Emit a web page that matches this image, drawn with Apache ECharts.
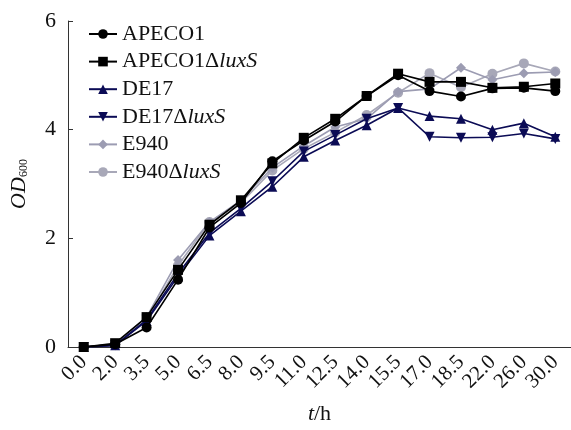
<!DOCTYPE html>
<html>
<head>
<meta charset="utf-8">
<script src="https://cdn.jsdelivr.net/npm/echarts@6/dist/echarts.min.js"></script>
<style>html,body{margin:0;padding:0;background:#fff}#c{width:571px;height:430px}</style>
</head>
<body>
<div id="c"></div>
<script>
const categories = ['0.0','2.0','3.5','5.0','6.5','8.0','9.5','11.0','12.5','14.0','15.5','17.0','18.5','22.0','26.0','30.0'];
const yTicks = [0, 2, 4, 6];
const seriesNames = ['APECO1', 'APECO1ΔluxS', 'DE17', 'DE17ΔluxS', 'E940', 'E940ΔluxS'];
const apeco1 =        [0.00, 0.05, 0.36, 1.24, 2.20, 2.65, 3.42, 3.80, 4.15, 4.62, 5.00, 4.71, 4.61, 4.76, 4.77, 4.71];
const apeco1LuxS =    [0.00, 0.07, 0.55, 1.42, 2.25, 2.70, 3.38, 3.85, 4.20, 4.62, 5.03, 4.88, 4.88, 4.77, 4.79, 4.85];
const de17 =          [0.00, 0.03, 0.48, 1.30, 2.05, 2.50, 2.95, 3.50, 3.80, 4.08, 4.40, 4.25, 4.20, 4.00, 4.12, 3.87];
const de17LuxS =      [0.00, 0.03, 0.50, 1.35, 2.10, 2.55, 3.05, 3.60, 3.90, 4.20, 4.40, 3.87, 3.85, 3.86, 3.93, 3.83];
const e940 =          [0.00, 0.05, 0.55, 1.60, 2.30, 2.70, 3.30, 3.70, 4.05, 4.20, 4.70, 4.75, 5.14, 4.92, 5.04, 5.06];
const e940LuxS =      [0.00, 0.05, 0.50, 1.50, 2.30, 2.65, 3.25, 3.65, 3.95, 4.27, 4.68, 5.04, 4.78, 5.03, 5.22, 5.07];

const FONT = 'Liberation Serif';
const specs = [
  {data: apeco1, color: '#000000', symbol: 'circle', size: 10},
  {data: apeco1LuxS, color: '#000000', symbol: 'rect', size: 10},
  {data: de17, color: '#0b0b55', symbol: 'triangle', size: 10},
  {data: de17LuxS, color: '#0b0b55', symbol: 'path://M0,0 L10,0 L5,10 Z', size: 10},
  {data: e940, color: '#9c9cb2', symbol: 'diamond', size: 10},
  {data: e940LuxS, color: '#a8a8b8', symbol: 'circle', size: 10}
];

const chart = echarts.init(document.getElementById('c'));
chart.setOption({
  backgroundColor: '#fff',
  animation: false,
  grid: {left: 64, top: 21, width: 508, height: 333},
  legend: {
    orient: 'vertical', left: 83, top: 18, itemWidth: 28, itemHeight: 12, itemGap: 5.6,
    data: seriesNames,
    formatter: function (n) {
      const k = n.indexOf('Δ');
      if (k < 0) return '{n|' + n + '}';
      return '{n|' + n.slice(0, k + 1) + '}{i|' + n.slice(k + 1) + '}';
    },
    textStyle: {
      fontFamily: FONT, fontSize: 22, color: '#111', lineHeight: 22,
      rich: {
        n: {fontFamily: FONT, fontSize: 22, color: '#111'},
        i: {fontFamily: FONT, fontSize: 22, fontStyle: 'italic', color: '#111'}
      }
    }
  },
  xAxis: {
    type: 'category', data: categories, boundaryGap: true,
    name: '{i|t}{n|/h}', nameLocation: 'middle', nameGap: 56,
    nameTextStyle: {rich: {
      i: {fontFamily: FONT, fontSize: 22, fontStyle: 'italic', color: '#111'},
      n: {fontFamily: FONT, fontSize: 22, color: '#111'}
    }},
    axisLine: {lineStyle: {color: '#333', width: 1}},
    axisTick: {inside: true, length: 5, alignWithLabel: true, lineStyle: {color: '#333'}},
    axisLabel: {rotate: 45, fontFamily: FONT, fontSize: 21, color: '#111', margin: 12, interval: 0},
    splitLine: {show: false}
  },
  yAxis: {
    type: 'value', min: 0, max: 6, interval: 2,
    name: '{i|OD}{s|600}', nameLocation: 'middle', nameGap: 38, nameRotate: 90,
    nameTextStyle: {rich: {
      i: {fontFamily: FONT, fontSize: 22, fontStyle: 'italic', color: '#111'},
      s: {fontFamily: FONT, fontSize: 12, color: '#111', padding: [10, 0, 0, 0]}
    }},
    axisLine: {show: true, lineStyle: {color: '#333', width: 1}},
    axisTick: {show: true, inside: true, length: 5, lineStyle: {color: '#333'}},
    axisLabel: {fontFamily: FONT, fontSize: 22, color: '#111', margin: 12,
      formatter: function (v) { return yTicks.indexOf(v) >= 0 ? String(v) : ''; }},
    splitLine: {show: false}
  },
  series: specs.map(function (s, i) {
    return {
      name: seriesNames[i], type: 'line', data: s.data,
      symbol: s.symbol, symbolSize: s.size, showSymbol: true,
      itemStyle: {color: s.color},
      lineStyle: {color: s.color, width: 1.6},
      z: 10 - i
    };
  })
});
</script>
</body>
</html>
